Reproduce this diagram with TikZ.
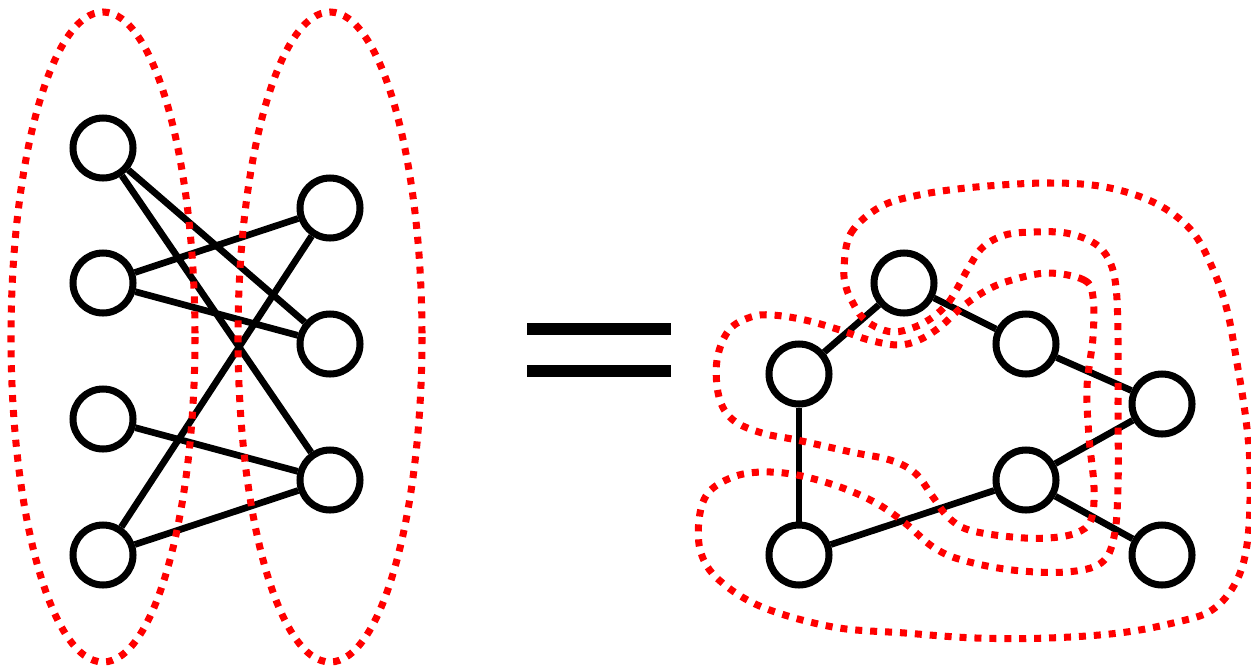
\documentclass[tikz,border=0pt]{standalone}
\usetikzlibrary{calc}

\begin{document}
\begin{tikzpicture}[
    x=0.02cm, y=-0.02cm,
    vtx/.style={circle,draw=black,fill=white,line width=4pt,inner sep=0pt,minimum size=1.2cm},
    edge/.style={draw=black,line width=3.8pt},
    part/.style={draw=red,line width=4pt,dash pattern=on 4pt off 4.5pt},
    eqbar/.style={draw=black,line width=6.8pt}
    ]
\useasboundingbox (0,0) rectangle (1251,667);
\def\xl{103}   % left column
\def\xr{330}   % right column

    % BIPARTITE GRAPH
    \foreach \i/\y in {1/148,2/283,3/419,4/555}
        \node[vtx] (l\i) at (\xl,\y) {};
    \foreach \i/\y in {1/208,2/344,3/480}
        \node[vtx] (r\i) at (\xr,\y) {};
    \foreach \a/\b in {l1/r2,l1/r3,l2/r1,l2/r2,l3/r3,l4/r1,l4/r3}
        \draw[edge] (\a) -- (\b);

    % the two sides
    \draw[part] (\xl,337) ellipse (92 and 325);
    \draw[part] (\xr,337) ellipse (92 and 325);

    % EQUALS
    \coordinate (eqa) at (527,329);
    \coordinate (eqb) at (527,371);
    \draw[eqbar] (eqa) -- ++(144,0);
    \draw[eqbar] (eqb) -- ++(144,0);

    % SECOND GRAPH
    \node[vtx] (p1) at (904,283) {};
    \node[vtx] (p2) at (799,374) {};
    \node[vtx] (p3) at (1026,344) {};
    \node[vtx] (p4) at (1162,404) {};
    \node[vtx] (p5) at (1026,480) {};
    \node[vtx] (p6) at (799,555) {};
    \node[vtx] (p7) at (1162,555) {};
    \foreach \a/\b in {p2/p1,p1/p3,p3/p4,p4/p5,p5/p7,p5/p6,p2/p6}
        \draw[edge] (\a) -- (\b);

    % outer loop
    \draw[part] plot[smooth cycle,tension=0.6] coordinates {
        (844,267) (851,233) (880,207) (919,195) (976,187) (1048,183)
        (1105,187) (1155,203) (1191,230) (1212,267) (1227,310) (1237,363)
        (1246,420) (1250,470) (1248,537) (1237,580) (1212,610) (1173,623)
        (1119,633) (1048,638) (976,638) (905,633) (833,627) (762,607)
        (719,580) (701,553) (699,520) (708,493) (733,477) (762,472)
        (797,475) (840,487) (876,503) (905,523) (933,547) (962,560)
        (1012,570) (1066,572) (1101,563) (1114,537) (1118,487) (1118,403)
        (1118,337) (1116,287) (1109,260) (1094,243) (1066,233) (1034,232)
        (1005,235) (983,247) (969,267) (958,287) (948,303) (933,317)
        (915,327) (894,332) (876,327) (862,317) (853,303) (846,287)};
    % inner loop
    \draw[part] plot[smooth cycle,tension=0.6] coordinates {
        (1048,273) (1084,280) (1093,297) (1093,337) (1087,387) (1089,437)
        (1094,487) (1091,520) (1076,533) (1048,538) (1012,537) (969,530)
        (948,517) (933,497) (915,473) (890,460) (851,452) (797,440)
        (762,433) (733,420) (719,397) (717,360) (729,330) (751,317)
        (772,315) (805,320) (840,330) (869,340) (898,345) (919,340)
        (940,327) (962,307) (987,290) (1012,280)};
\end{tikzpicture}
\end{document}
